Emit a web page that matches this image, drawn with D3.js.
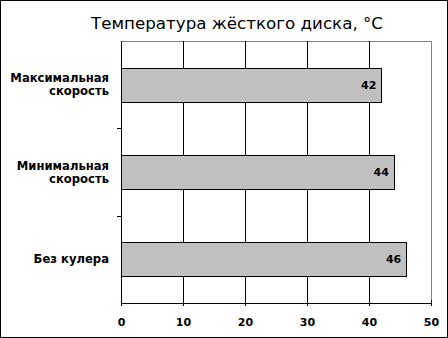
<!DOCTYPE html>
<html>
<head>
<meta charset="utf-8">
<script src="https://cdn.jsdelivr.net/npm/d3@7"></script>
<style>
  body { margin: 0; background: #fff; }
  svg { display: block; }
  .axis text { font-family: "DejaVu Sans", Verdana, sans-serif; font-weight: bold; font-size: 11px; fill: #000; }
</style>
</head>
<body>
<div id="chart"></div>
<script>
var categories = [["Максимальная", "скорость"], ["Минимальная", "скорость"], ["Без кулера"]];
var values = [42, 44, 46];
var xTicks = [0, 10, 20, 30, 40, 50];
var title = "Температура жёсткого диска, °C";

var W = 448, H = 338;
var margin = {top: 41, right: 17, bottom: 35, left: 121},
    width = W - margin.left - margin.right,
    height = H - margin.top - margin.bottom;

var svg = d3.select("#chart").append("svg")
    .attr("width", W)
    .attr("height", H);

// outer frame
svg.append("rect")
    .attr("x", 0.5).attr("y", 0.5)
    .attr("width", W - 1).attr("height", H - 1)
    .attr("fill", "#fff").attr("stroke", "#000");

svg.append("text")
    .attr("x", 237)
    .attr("y", 29)
    .attr("text-anchor", "middle")
    .style("font-family", "'DejaVu Sans', Verdana, sans-serif")
    .style("font-size", "16.7px")
    .text(title);

var g = svg.append("g")
    .attr("transform", "translate(" + margin.left + "," + margin.top + ")");

var x = d3.scaleLinear().domain([0, 50]).range([0, width]);
var y = d3.scaleBand().domain(d3.range(categories.length)).range([0, height]).paddingInner(0.61).paddingOuter(0.305);
var yb = d3.scaleBand().domain(d3.range(categories.length)).range([0, height]);

// plot frame (grey top/right)
g.append("path")
    .attr("d", "M0.5,0.5H" + (width + 0.5) + "V" + height)
    .attr("fill", "none").attr("stroke", "#808080");

// grid lines
g.selectAll(".grid")
    .data(xTicks.slice(1, -1))
    .enter().append("line")
    .attr("x1", function(d) { return Math.round(x(d)) + 0.5; })
    .attr("x2", function(d) { return Math.round(x(d)) + 0.5; })
    .attr("y1", 0).attr("y2", height)
    .attr("stroke", "#000");

// bars
g.selectAll(".bar")
    .data(values)
    .enter().append("rect")
    .attr("class", "bar")
    .attr("x", 0.5)
    .attr("y", function(d, i) { return Math.round(y(i)) + 0.5; })
    .attr("width", function(d) { return Math.round(x(d)); })
    .attr("height", Math.round(y.bandwidth()))
    .attr("fill", "#c0c0c0")
    .attr("stroke", "#000");

g.selectAll(".val")
    .data(values)
    .enter().append("text")
    .attr("x", function(d) { return x(d) - 5; })
    .attr("y", function(d, i) { return y(i) + y.bandwidth() / 2 + 4; })
    .attr("text-anchor", "end")
    .style("font-family", "'DejaVu Sans', Verdana, sans-serif")
    .style("font-weight", "bold")
    .style("font-size", "11px")
    .text(function(d) { return d; });

// x axis
var xAxis = g.append("g")
    .attr("class", "axis")
    .attr("transform", "translate(0," + height + ")")
    .call(d3.axisBottom(x).tickValues(xTicks).tickSize(3).tickSizeOuter(0).tickPadding(12));
xAxis.select(".domain").attr("stroke", "#000");
xAxis.selectAll(".tick line").attr("y1", -3).attr("stroke", "#000");

// y axis: ticks between categories
g.append("line")
    .attr("x1", 0.5).attr("x2", 0.5).attr("y1", 0).attr("y2", height)
    .attr("stroke", "#000");
g.selectAll(".ytick")
    .data(d3.range(1, categories.length))
    .enter().append("line")
    .attr("x1", -4).attr("x2", 0)
    .attr("y1", function(d) { return Math.round(yb(d)) + 0.5; })
    .attr("y2", function(d) { return Math.round(yb(d)) + 0.5; })
    .attr("stroke", "#000");

var labels = g.selectAll(".cat")
    .data(categories)
    .enter().append("text")
    .attr("class", "cat")
    .attr("text-anchor", "end")
    .style("font-family", "'DejaVu Sans', Verdana, sans-serif")
    .style("font-weight", "bold")
    .style("font-size", "11.6px")
    .attr("transform", function(d, i) {
      var cy = yb(i) + yb.bandwidth() / 2 - (d.length - 1) * 6.5 + 4;
      return "translate(-12," + cy + ")";
    });
labels.selectAll("tspan")
    .data(function(d) { return d; })
    .enter().append("tspan")
    .attr("x", 0)
    .attr("dy", function(d, i) { return i ? 13 : 0; })
    .text(function(d) { return d; });
</script>
</body>
</html>
